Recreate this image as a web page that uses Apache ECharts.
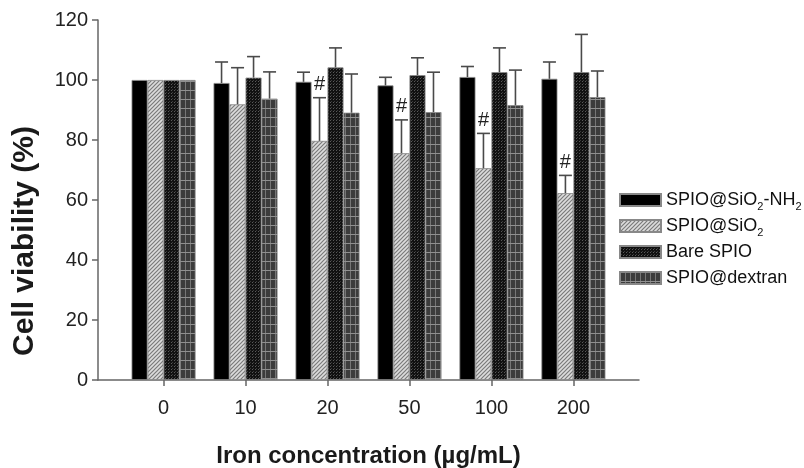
<!DOCTYPE html>
<html>
<head>
<meta charset="utf-8">
<script src="https://cdn.jsdelivr.net/npm/echarts@6/dist/echarts.min.js"></script>
<style>html,body{margin:0;padding:0;background:#fff;}#chart{width:804px;height:468px;}</style>
</head>
<body>
<div id="chart"></div>
<script>
// ---- data ----
const categories = ['0', '10', '20', '50', '100', '200'];
const seriesNames = ['SPIO@SiO2-NH2', 'SPIO@SiO2', 'Bare SPIO', 'SPIO@dextran'];
const nh2Mean = [100, 99.0, 99.4, 98.2, 101.0, 100.4];
const nh2Err = [0, 7.0, 3.2, 2.7, 3.5, 5.6];
const sio2Mean = [100, 91.9, 79.7, 75.6, 70.6, 62.3];
const sio2Err = [0, 12.2, 14.4, 11.1, 11.6, 5.9];
const bareMean = [100, 100.8, 104.2, 101.6, 102.6, 102.6];
const bareErr = [0, 7.0, 6.5, 5.8, 8.1, 12.6];
const dexMean = [100, 93.8, 89.1, 89.3, 91.6, 94.3];
const dexErr = [0, 8.9, 12.9, 13.3, 11.7, 8.7];
const sio2Sig = [false, false, true, true, true, true];
const yTicks = [0, 20, 40, 60, 80, 100, 120];
const xTitle = 'Iron concentration (µg/mL)';
const yTitle = 'Cell viability (%)';

const means = [nh2Mean, sio2Mean, bareMean, dexMean];
const errs = [nh2Err, sio2Err, bareErr, dexErr];
const sigs = [null, sio2Sig, null, null];

// ---- patterns ----
function pat(w, h, draw) {
  const c = document.createElement('canvas');
  c.width = w; c.height = h;
  const ctx = c.getContext('2d');
  draw(ctx);
  return { image: c, repeat: 'repeat' };
}
const fills = [
  '#000000',
  pat(4, 4, ctx => {
    ctx.fillStyle = '#dcdcdc'; ctx.fillRect(0, 0, 4, 4);
    ctx.strokeStyle = '#7a7a7a'; ctx.lineWidth = 1.2;
    ctx.beginPath();
    ctx.moveTo(-1, 5); ctx.lineTo(5, -1);
    ctx.moveTo(-1, 1); ctx.lineTo(1, -1);
    ctx.moveTo(3, 5); ctx.lineTo(5, 3);
    ctx.stroke();
  }),
  pat(3, 3, ctx => {
    ctx.fillStyle = '#111'; ctx.fillRect(0, 0, 3, 3);
    ctx.fillStyle = '#5a5a5a'; ctx.fillRect(0, 0, 1, 1);
    ctx.fillStyle = '#3a3a3a'; ctx.fillRect(1, 2, 1, 1);
  }),
  pat(5, 9, ctx => {
    ctx.fillStyle = '#3c3c3c'; ctx.fillRect(0, 0, 5, 9);
    ctx.fillStyle = '#767676'; ctx.fillRect(0, 0, 1, 9);
    ctx.fillStyle = '#909090'; ctx.fillRect(0, 0, 5, 1);
  })
];

const FONT = "Arial, 'Liberation Sans', sans-serif";
const BAR_W = 16;

const series = [];
seriesNames.forEach((name, s) => {
  series.push({
    name: name,
    type: 'bar',
    barWidth: BAR_W,
    barGap: '0%',
    data: categories.map((c, i) => [i, means[s][i]]),
    itemStyle: { color: fills[s], borderColor: '#888', borderWidth: 0.8 },
    emphasis: { disabled: true },
    z: 2
  });
});
seriesNames.forEach((name, s) => {
  const offset = (s - 1.5) * BAR_W;
  const rows = [];
  categories.forEach((c, i) => {
    if (errs[s][i] > 0) rows.push([i, means[s][i], means[s][i] + errs[s][i], sigs[s] && sigs[s][i] ? 1 : 0]);
  });
  series.push({
    name: 'err' + s,
    type: 'custom',
    encode: { x: 0, y: [1, 2] },
    data: rows,
    z: 5,
    silent: true,
    renderItem: function (params, api) {
      const x = api.value(0), m = api.value(1), hi = api.value(2), sg = api.value(3);
      const b = api.coord([x, m]);
      const t = api.coord([x, hi]);
      const px = b[0] + offset;
      const st = { stroke: '#4a4a4a', lineWidth: 1.6 };
      const children = [
        { type: 'line', shape: { x1: px, y1: b[1], x2: px, y2: t[1] }, style: st },
        { type: 'line', shape: { x1: px - 6.5, y1: t[1], x2: px + 6.5, y2: t[1] }, style: st }
      ];
      if (sg) {
        children.push({
          type: 'text',
          style: { text: '#', x: px, y: t[1] - 3, fill: '#222', font: '20px ' + FONT, align: 'center', verticalAlign: 'bottom' }
        });
      }
      return { type: 'group', children: children };
    }
  });
});

const chart = echarts.init(document.getElementById('chart'), null, { renderer: 'canvas' });
chart.setOption({
  animation: false,
  backgroundColor: '#fff',
  grid: { left: 98, right: 165, top: 20, bottom: 88, outerBoundsMode: 'none' },
  graphic: [{
    type: 'text',
    x: 25, y: 241,
    rotation: Math.PI / 2,
    style: { text: yTitle, font: 'bold 30px ' + FONT, fill: '#1a1a1a', align: 'center', verticalAlign: 'middle' }
  }],
  legend: {
    data: seriesNames,
    orient: 'vertical',
    left: 614,
    top: 183,
    icon: 'rect',
    itemWidth: 41,
    itemHeight: 12,
    itemGap: 2,
    selectedMode: false,
    textStyle: {
      fontFamily: FONT, fontSize: 18, color: '#111', lineHeight: 24,
      rich: { s: { fontFamily: FONT, fontSize: 11, lineHeight: 11, verticalAlign: 'bottom', color: '#111' } }
    },
    formatter: function (name) {
      return name.replace(/SiO2/g, 'SiO{s|2}').replace(/NH2/g, 'NH{s|2}');
    }
  },
  xAxis: {
    type: 'value',
    min: -0.8,
    max: 5.8,
    name: xTitle,
    nameLocation: 'middle',
    nameGap: 64,
    nameTextStyle: { fontFamily: FONT, fontSize: 24, fontWeight: 'bold', color: '#1a1a1a' },
    axisLine: { show: true, onZero: false, lineStyle: { color: '#666', width: 1.5 } },
    axisTick: { show: true, length: 6, lineStyle: { color: '#666', width: 1.5 }, customValues: categories.map((c, i) => i) },
    axisLabel: {
      fontFamily: FONT, fontSize: 20, color: '#222', margin: 18,
      customValues: categories.map((c, i) => i),
      formatter: v => categories[Math.round(v)]
    },
    splitLine: { show: false }
  },
  yAxis: {
    type: 'value',
    min: 0,
    max: 120,
    interval: 20,
    axisLine: { show: true, onZero: false, lineStyle: { color: '#666', width: 1.5 } },
    axisTick: { show: true, length: 6, lineStyle: { color: '#666', width: 1.5 } },
    axisLabel: { fontFamily: FONT, fontSize: 20, color: '#222', margin: 10, formatter: v => yTicks.indexOf(v) >= 0 ? String(v) : '' },
    splitLine: { show: false }
  },
  series: series
});
</script>
</body>
</html>
